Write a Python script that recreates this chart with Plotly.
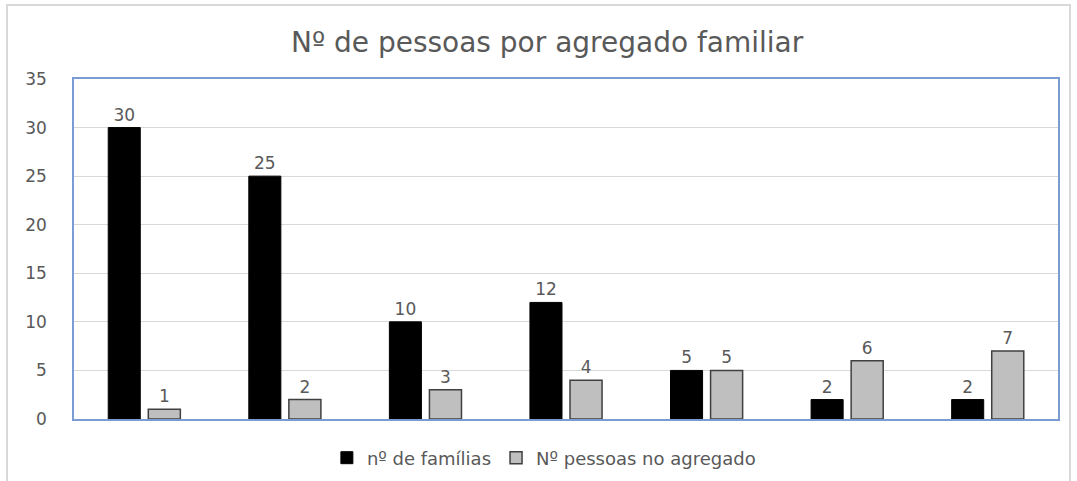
import plotly.graph_objects as go

categories = ["1", "2", "3", "4", "5", "6", "7"]
familias = [30, 25, 10, 12, 5, 2, 2]
pessoas = [1, 2, 3, 4, 5, 6, 7]
y_ticks = [0, 5, 10, 15, 20, 25, 30, 35]

txt = "#595959"
fnt = "DejaVu Sans, Noto Sans, sans-serif"

fig = go.Figure()
fig.add_trace(go.Bar(
    x=categories, y=familias, name="nº de famílias",
    marker=dict(color="#000000", line=dict(color="#000000", width=1)),
    text=familias, textposition="outside",
    textfont=dict(color=txt, size=17, family=fnt), cliponaxis=False,
))
fig.add_trace(go.Bar(
    x=categories, y=pessoas, name="Nº pessoas no agregado",
    marker=dict(color="#BFBFBF", line=dict(color="#404040", width=1.5)),
    text=pessoas, textposition="outside",
    textfont=dict(color=txt, size=17, family=fnt), cliponaxis=False,
))

fig.update_layout(
    width=1077, height=481,
    margin=dict(l=74, r=19, t=79, b=62, autoexpand=False),
    paper_bgcolor="white", plot_bgcolor="white",
    barmode="group", bargap=0.43, bargroupgap=0.2,
    font=dict(family=fnt, color=txt, size=16),
    title=dict(text="Nº de pessoas por agregado familiar",
               x=0.508, xref="container", xanchor="center",
               y=1 - 42 / 481, yref="container", yanchor="middle",
               font=dict(size=28, color=txt, family=fnt)),
    legend=dict(orientation="h", x=0.505, xref="container", xanchor="center",
                y=1 - 458 / 481, yref="container", yanchor="middle",
                font=dict(size=18, color=txt, family=fnt)),
    showlegend=True,
    xaxis=dict(showticklabels=False, showgrid=False, ticks="", automargin=False,
               showline=True, mirror=True, linecolor="#7A9CD3", linewidth=1.5),
    yaxis=dict(range=[0, 35], tickvals=y_ticks, showgrid=True, automargin=False,
               gridcolor="#D9D9D9", gridwidth=1, zeroline=False,
               showline=True, mirror=True, linecolor="#7A9CD3", linewidth=1.5,
               ticklabelstandoff=22, tickfont=dict(size=17, color=txt, family=fnt)),
    shapes=[dict(type="rect", xref="paper", yref="paper",
                 x0=(7 - 74) / 984, x1=(1070 - 74) / 984,
                 y0=-0.25, y1=(419 - 5) / 340,
                 line=dict(color="#D9D9D9", width=2), fillcolor="rgba(0,0,0,0)",
                 layer="below")],
)

fig.write_html("out.html", config={"displayModeBar": False},
               post_script="document.body.style.margin='0';document.body.style.overflow='hidden';")
